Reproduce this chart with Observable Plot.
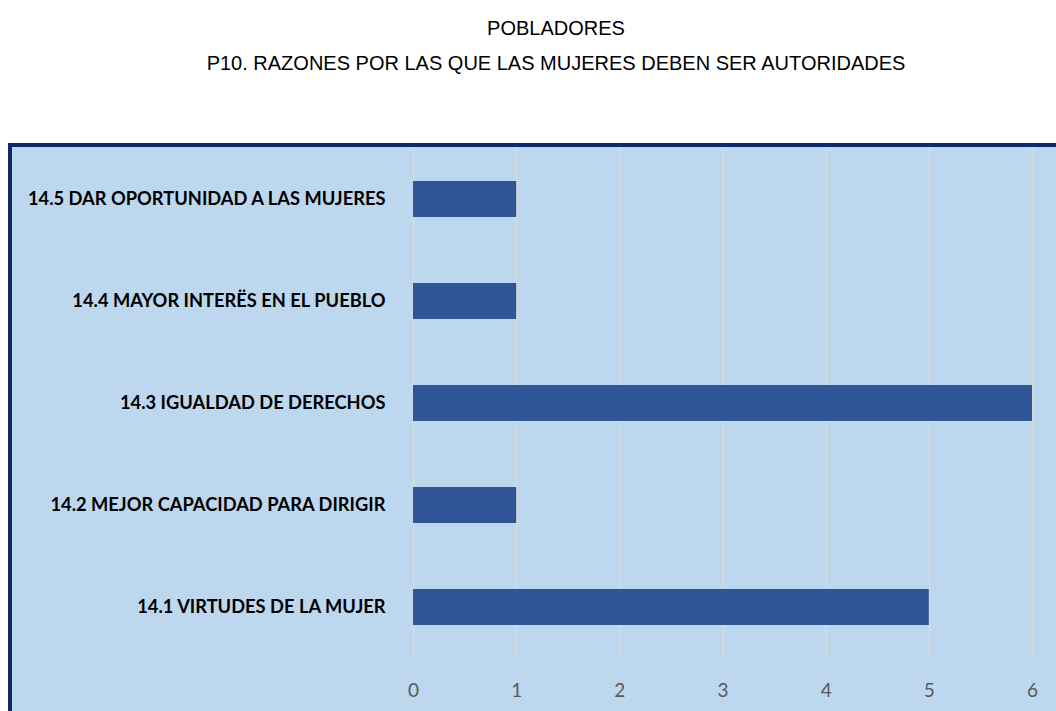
<!DOCTYPE html>
<html>
<head>
<meta charset="utf-8">
<script src="https://cdn.jsdelivr.net/npm/d3@7"></script>
<script src="https://cdn.jsdelivr.net/npm/@observablehq/plot@0.6"></script>
<style>
  html, body { margin: 0; padding: 0; background: #ffffff; width: 1056px; height: 711px; overflow: hidden; position: relative; }
  .t { position: absolute; left: 0; width: 1112px; text-align: center; font-family: "Liberation Sans", Arial, sans-serif; font-size: 20px; color: #000; line-height: 1; }
  #t1 { top: 18px; }
  #t2 { top: 53px; }
  #box { position: absolute; left: 8px; top: 143px; width: 1100px; height: 620px; background: #BDD7EE; border-left: 4px solid #0E2A6B; border-top: 4px solid #0E2A6B; }
  #chart { position: absolute; left: 0; top: 0; }
</style>
</head>
<body>
<div class="t" id="t1">POBLADORES</div>
<div class="t" id="t2">P10. RAZONES POR LAS QUE LAS MUJERES DEBEN SER AUTORIDADES</div>
<div id="box"><div id="chart"></div></div>
<script>
const categories = [
  "14.5 DAR OPORTUNIDAD A LAS MUJERES",
  "14.4 MAYOR INTERËS EN EL PUEBLO",
  "14.3 IGUALDAD DE DERECHOS",
  "14.2 MEJOR CAPACIDAD PARA DIRIGIR",
  "14.1 VIRTUDES DE LA MUJER"
];
const values = [1, 1, 6, 1, 5];
const xTicks = [0, 1, 2, 3, 4, 5, 6];

const data = categories.map((c, i) => ({category: c, value: values[i]}));

const chart = Plot.plot({
  width: 1044,
  height: 564,
  marginLeft: 401,
  marginRight: 24,
  marginTop: 0,
  marginBottom: 53,
  style: { background: "transparent", overflow: "visible" },
  x: { domain: [0, 6], ticks: xTicks, label: null },
  y: { domain: categories, paddingInner: 0.648, paddingOuter: 0.324, label: null },
  marks: [
    Plot.ruleX(xTicks, { stroke: "#D9D9D9", strokeWidth: 1.6 }),
    Plot.barX(data, { x: "value", y: "category", fill: "#2F5597" }),
    Plot.axisX({ ticks: xTicks, tickFormat: d3.format("d"), tickSize: 0, tickPadding: 25, fontSize: 19, fill: "#595959", fontFamily: "Lato, 'Open Sans', sans-serif", label: null }),
    Plot.axisY({ tickSize: 0, tickPadding: 28, fontSize: 18.3, fontWeight: "bold", fill: "#000000", fontFamily: "Lato, 'Open Sans', sans-serif", label: null })
  ]
});
document.getElementById("chart").appendChild(chart);
</script>
</body>
</html>
